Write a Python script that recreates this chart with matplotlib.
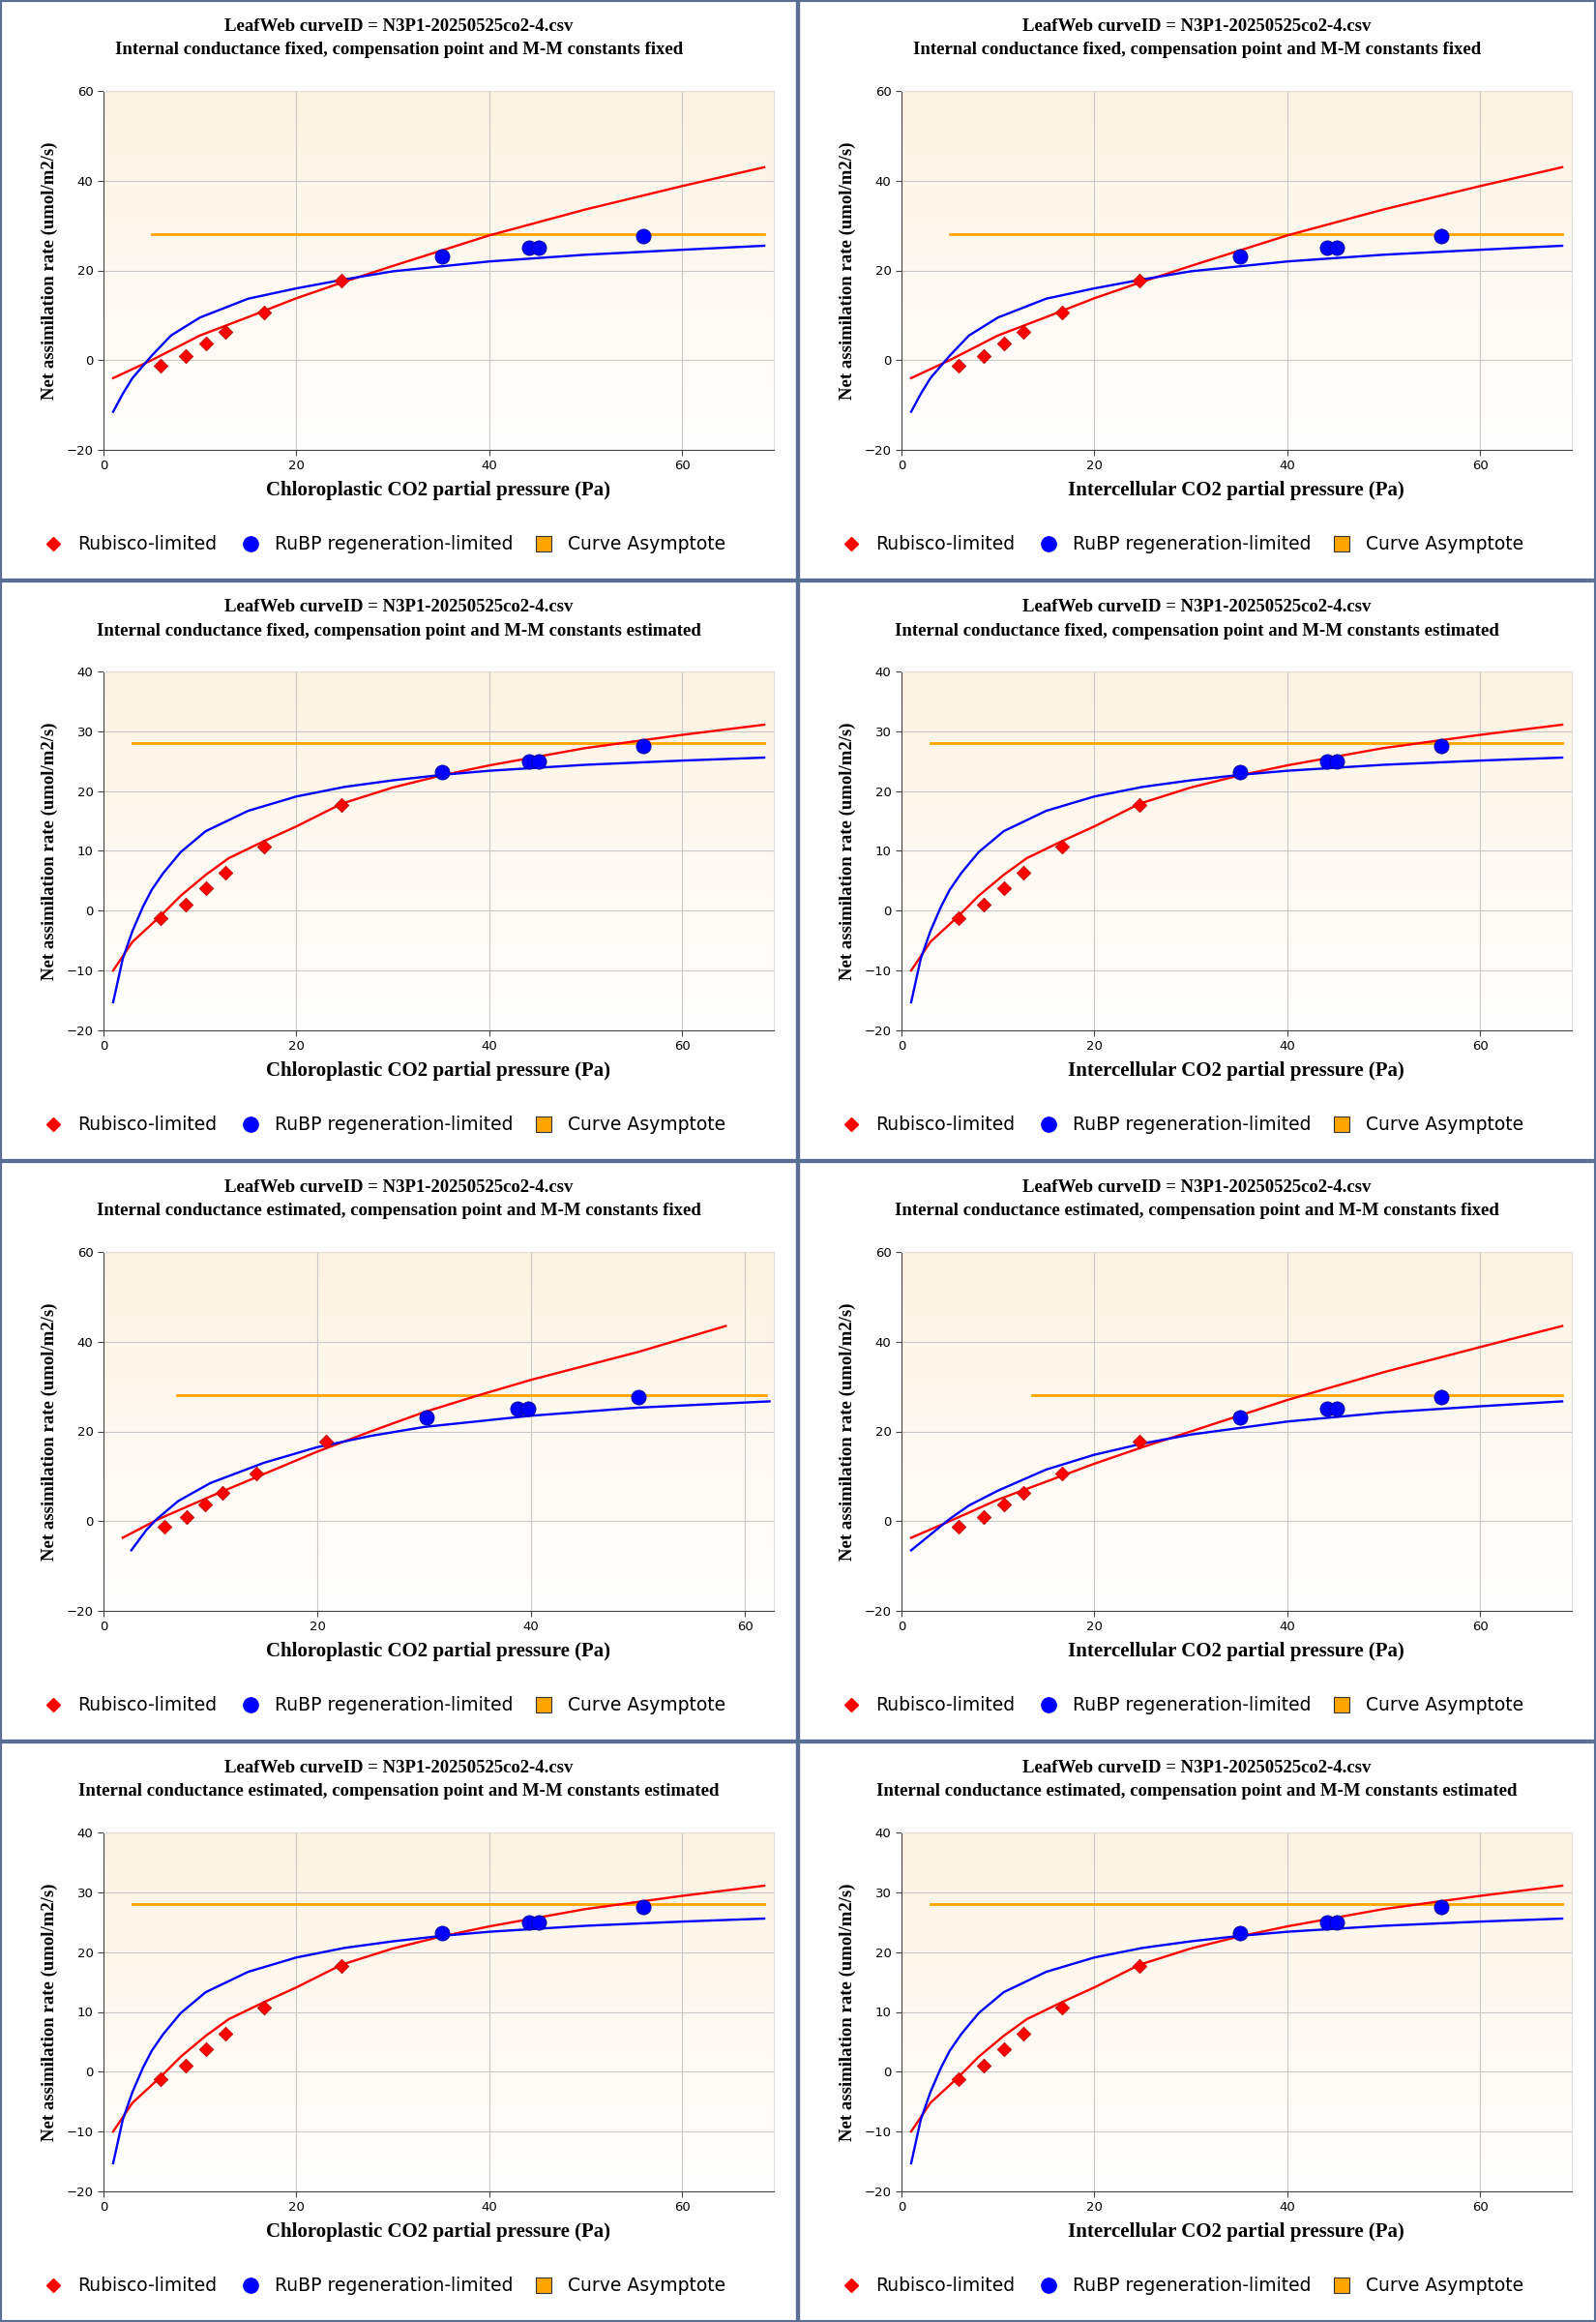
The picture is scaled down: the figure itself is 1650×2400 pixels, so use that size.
import matplotlib
matplotlib.use("Agg")
import matplotlib.pyplot as plt
import numpy as np
from matplotlib.patches import Rectangle
from matplotlib.colors import LinearSegmentedColormap

# ---- data ----
title1 = "LeafWeb curveID = N3P1-20250525co2-4.csv"
subtitles = [
    ["Internal conductance fixed, compensation point and M-M constants fixed"] * 2,
    ["Internal conductance fixed, compensation point and M-M constants estimated"] * 2,
    ["Internal conductance estimated, compensation point and M-M constants fixed"] * 2,
    ["Internal conductance estimated, compensation point and M-M constants estimated"] * 2,
]
xlabels = ["Chloroplastic CO2 partial pressure (Pa)", "Intercellular CO2 partial pressure (Pa)"]

# measured points, chloroplastic / intercellular
rub_x = [5.9, 8.5, 10.6, 12.6, 16.6, 24.7]
rub_y = [-1.2, 1.0, 3.8, 6.4, 10.7, 17.7]
rubp_x = [35.1, 44.1, 45.1, 56.0]
rubp_y = [23.1, 25.0, 25.0, 27.6]
# chloroplastic with estimated conductance
rub_x_e = [5.7, 7.8, 9.5, 11.1, 14.3, 20.8]
rubp_x_e = [30.2, 38.7, 39.7, 50.0]
asym_y = 28.0

# fitted curves, variant A (all fixed)
a_red_x = [1, 5, 10, 15, 20, 25, 30, 40, 50, 60, 68.5]
a_red_y = [-4, 0, 5.5, 9.6, 13.8, 17.5, 21, 27.8, 33.6, 38.8, 43]
a_blue_x = [1, 2, 3, 5, 7, 10, 15, 20, 25, 30, 40, 50, 60, 68.5]
a_blue_y = [-11.5, -7.5, -4, 1, 5.5, 9.5, 13.7, 16, 18, 19.8, 22, 23.5, 24.6, 25.5]
a_asym = [5, 68.5]

# variant B (compensation point etc. estimated)
b_red_x = [1, 3, 5.9, 8, 10.6, 13, 16.6, 20, 24.7, 30, 35, 40, 50, 60, 68.5]
b_red_y = [-10, -5.2, -0.9, 2.5, 6, 8.8, 11.6, 14.1, 17.9, 20.6, 22.6, 24.3, 27.2, 29.4, 31.1]
b_blue_x = [1, 2, 3, 4.1, 5, 6.2, 8, 10.6, 15, 20, 25, 30, 35, 40, 50, 60, 68.5]
b_blue_y = [-15.3, -8, -3.4, 0.7, 3.5, 6.3, 9.8, 13.3, 16.7, 19.1, 20.7, 21.8, 22.7, 23.4, 24.4, 25.1, 25.6]
b_asym = [3, 68.5]

# variant C (conductance estimated, chloroplastic)
c_red_x = [1.8, 5, 10, 15, 20, 25, 30, 35, 40, 50, 58.2]
c_red_y = [-3.7, 0.3, 5.5, 10.5, 15.5, 20, 24.3, 28, 31.5, 37.7, 43.5]
c_blue_x = [2.6, 4, 5, 7, 10, 15, 20, 25, 30, 40, 50, 62.3]
c_blue_y = [-6.5, -2, 0.5, 4.5, 8.5, 13, 16.5, 19, 21, 23.5, 25.3, 26.7]
c_asym = [6.9, 62]

# variant D (conductance estimated, intercellular)
d_red_x = [1, 5, 10, 20, 25, 30, 40, 50, 60, 68.5]
d_red_y = [-3.7, 0, 4.8, 12.8, 16.5, 20, 27, 33.2, 38.8, 43.5]
d_blue_x = [1, 3, 5, 7, 10, 15, 20, 25, 30, 40, 50, 60, 68.5]
d_blue_y = [-6.5, -3, 0.5, 3.5, 6.8, 11.5, 14.8, 17.3, 19.3, 22.2, 24.2, 25.6, 26.7]
d_asym = [13.5, 68.5]

W, H = 1650, 2400
PW, PH = 825, 600
fig = plt.figure(figsize=(W / 100, H / 100), dpi=100)

grad = np.linspace(1, 0, 256).reshape(-1, 1)
bgcmap = LinearSegmentedColormap.from_list("bg", ["#ffffff", "#fdf3e2"])
serif = ["Liberation Serif", "DejaVu Serif"]


def panel(r, c):
    x0, y0 = c * PW, r * PH
    ylim, yt = (-20, 60), [-20, 0, 20, 40, 60]
    xmax = 69.5
    rx, bx = rub_x, rubp_x
    if r == 0:
        red, blue, asym = (a_red_x, a_red_y), (a_blue_x, a_blue_y), a_asym
    elif r == 2 and c == 0:
        rx, bx = rub_x_e, rubp_x_e
        red, blue, asym = (c_red_x, c_red_y), (c_blue_x, c_blue_y), c_asym
        xmax = 62.7
    elif r == 2:
        red, blue, asym = (d_red_x, d_red_y), (d_blue_x, d_blue_y), d_asym
    else:
        red, blue, asym = (b_red_x, b_red_y), (b_blue_x, b_blue_y), b_asym
        ylim, yt = (-20, 40), [-20, -10, 0, 10, 20, 30, 40]

    ax = fig.add_axes([(x0 + 107) / W, 1 - (y0 + 465) / H, 693 / W, 371 / H])
    ax.imshow(grad, aspect="auto", cmap=bgcmap, extent=[0, xmax, ylim[0], ylim[1]], zorder=0)
    ax.set_xlim(0, xmax)
    ax.set_ylim(*ylim)
    ax.set_yticks(yt)
    ax.set_xticks([0, 20, 40, 60])
    ax.grid(True, color="#c8c8c8", lw=0.8, zorder=1)
    for s in ["top", "right"]:
        ax.spines[s].set_color("#dddddd")
    for s in ["left", "bottom"]:
        ax.spines[s].set_color("#444444")
    ax.tick_params(labelsize=9.5, length=4, color="#444444")
    for lab in ax.get_xticklabels() + ax.get_yticklabels():
        lab.set_fontfamily("Liberation Sans Narrow")

    ax.plot(asym, [asym_y, asym_y], color="#ffa500", lw=2, zorder=2)
    ax.plot(*red, color="#ff0000", lw=1.7, zorder=3)
    ax.plot(*blue, color="#0000ff", lw=1.7, zorder=3)
    ax.scatter(rx, rub_y, marker="D", s=55, color="#ff0000", edgecolor="#b00000", lw=0.5, zorder=4)
    ax.scatter(bx, rubp_y, marker="o", s=120, color="#0000ff", edgecolor="#000080", lw=0.5, zorder=4)
    ax.set_ylabel("Net assimilation rate (umol/m2/s)", family=serif,
                  fontweight="bold", fontsize=13.5, labelpad=6)

    cx = (x0 + PW / 2) / W
    fig.text(cx, 1 - (y0 + 28) / H, title1, ha="center", va="center",
             family=serif, fontweight="bold", fontsize=13.5)
    fig.text(cx, 1 - (y0 + 52) / H, subtitles[r][c], ha="center", va="center",
             family=serif, fontweight="bold", fontsize=13.5)
    fig.text((x0 + 453) / W, 1 - (y0 + 507) / H, xlabels[c], ha="center", va="center",
             family=serif, fontweight="bold", fontsize=15)

    ly = 1 - (y0 + 562) / H
    fig.lines.append(plt.Line2D([(x0 + 55) / W], [ly], marker="D", ms=7, color="#ff0000",
                                transform=fig.transFigure))
    fig.lines.append(plt.Line2D([(x0 + 259) / W], [ly], marker="o", ms=11, color="#0000ff",
                                transform=fig.transFigure))
    fig.lines.append(plt.Line2D([(x0 + 562) / W], [ly], marker="s", ms=11, color="#ffa500",
                                markeredgecolor="#333333", markeredgewidth=0.8,
                                transform=fig.transFigure))
    for tx, t in [(80, "Rubisco-limited"), (284, "RuBP regeneration-limited"), (587, "Curve Asymptote")]:
        fig.text((x0 + tx) / W, ly, t, ha="left", va="center", fontsize=13.5, family="DejaVu Sans")

    fig.patches.append(Rectangle((x0 / W, 1 - (y0 + PH) / H), PW / W, PH / H, fill=False,
                                 edgecolor="#5b6f94", lw=3, transform=fig.transFigure))


for r in range(4):
    for c in range(2):
        panel(r, c)

fig.savefig("out.png", dpi=100, facecolor="white")
